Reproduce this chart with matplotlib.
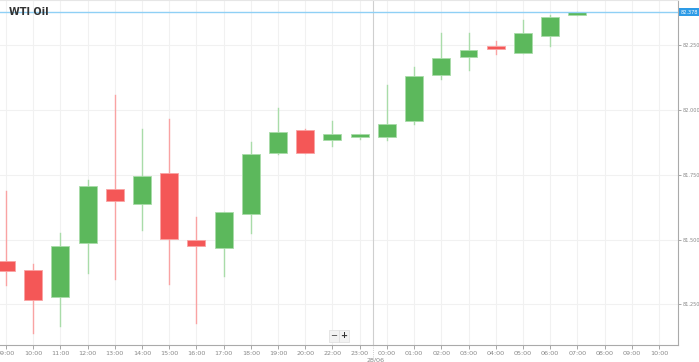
import matplotlib.pyplot as plt
from matplotlib.patches import Rectangle
import matplotlib.transforms as mtransforms

# hourly candles (21:00 is the daily break, no candle)
hours = ["09:00", "10:00", "11:00", "12:00", "13:00", "14:00", "15:00", "16:00",
         "17:00", "18:00", "19:00", "20:00", "22:00", "23:00", "00:00", "01:00",
         "02:00", "03:00", "04:00", "05:00", "06:00", "07:00"]
opens = [81.417, 81.382, 81.278, 81.486, 81.695, 81.637, 81.757, 81.498,
         81.467, 81.598, 81.834, 81.923, 81.884, 81.896, 81.896, 81.958,
         82.135, 82.205, 82.247, 82.220, 82.286, 82.367]
highs = [81.687, 81.405, 81.525, 81.730, 82.058, 81.927, 81.965, 81.587,
         81.606, 81.876, 82.008, 81.927, 81.958, 81.907, 82.097, 82.166,
         82.297, 82.297, 82.266, 82.347, 82.367, 82.378]
lows = [81.324, 81.139, 81.166, 81.371, 81.347, 81.537, 81.328, 81.178,
        81.359, 81.525, 81.830, 81.834, 81.861, 81.888, 81.884, 81.946,
        82.120, 82.154, 82.216, 82.220, 82.247, 82.367]
closes = [81.378, 81.266, 81.475, 81.707, 81.649, 81.745, 81.502, 81.475,
          81.606, 81.830, 81.915, 81.834, 81.907, 81.907, 81.946, 82.131,
          82.201, 82.232, 82.236, 82.297, 82.359, 82.378]
last_price = 82.378

tick_labels = hours + ["08:00", "09:00", "10:00"]
y_ticks = [81.25, 81.5, 81.75, 82.0, 82.25]

green = "#5cb85c"
red = "#f45757"
green_wick = "#a9dca9"
red_wick = "#f9a3a3"

fig = plt.figure(figsize=(6.99, 3.62), dpi=100)
ax = fig.add_axes([0, 17 / 362, 678 / 699, 345 / 362])

body_w = 0.66
for i in range(len(hours)):
    up = closes[i] >= opens[i]
    c = green if up else red
    wc = green_wick if up else red_wick
    ax.plot([i, i], [lows[i], highs[i]], color=wc, lw=1, zorder=2)
    bottom = min(opens[i], closes[i])
    h = max(abs(closes[i] - opens[i]), 0.006)
    ax.add_patch(Rectangle((i - body_w / 2, bottom), body_w, h, facecolor=c,
                           edgecolor=wc, lw=0.6, zorder=3))

ax.set_xlim(-0.22, 24.7)
ax.set_ylim(81.093, 82.425)

ax.set_xticks(range(len(tick_labels)))
ax.set_xticklabels(tick_labels)
ax.set_yticks(y_ticks)
ax.set_yticklabels(["%.3f" % v for v in y_ticks])
ax.yaxis.tick_right()
ax.tick_params(axis="x", labelsize=4.6, colors="#999999", labelcolor="#888888",
               length=3, width=0.6, pad=1.5)
ax.tick_params(axis="y", labelsize=3.6, colors="#999999", labelcolor="#888888",
               length=2, width=0.6, pad=1)

ax.grid(True, color="#f1f1f1", lw=0.8)
ax.set_axisbelow(True)
ax.spines["left"].set_visible(False)
ax.spines["top"].set_color("#e6e6e6")
ax.spines["right"].set_color("#aaaaaa")
ax.spines["bottom"].set_color("#aaaaaa")

# day separator
ax.axvline(13.5, color="#cfcfcf", lw=0.8, zorder=1)
trans = mtransforms.blended_transform_factory(ax.transData, ax.transAxes)
ax.plot([13.5, 13.5], [0, -0.04], color="#bbbbbb", lw=0.6, ls=":",
        transform=trans, clip_on=False)
ax.text(13.6, -0.036, "28/06", transform=trans, fontsize=4.6, color="#888888",
        ha="center", va="top")

# last price line and label
ax.axhline(last_price, color="#8fd0f5", lw=1, zorder=4)
ax.text(1.004, last_price, "%.3f" % last_price, transform=ax.get_yaxis_transform(),
        fontsize=3.6, color="white", va="center", ha="left", clip_on=False,
        bbox=dict(boxstyle="square,pad=0.25", facecolor="#2e9be6", edgecolor="none"))

fig.text(9 / 699, 1 - 12 / 362, "WTI Oil", fontsize=7, fontweight="bold",
         color="#333333", va="center", ha="left")

# zoom buttons
fig.text(334 / 699, 1 - 336 / 362, "\u2212", fontsize=6, color="#333333",
         ha="center", va="center",
         bbox=dict(boxstyle="square,pad=0.2", facecolor="#f2f2f2", edgecolor="#dddddd", lw=0.5))
fig.text(344 / 699, 1 - 336 / 362, "+", fontsize=6, color="#333333",
         ha="center", va="center", fontweight="bold",
         bbox=dict(boxstyle="square,pad=0.2", facecolor="#f2f2f2", edgecolor="#dddddd", lw=0.5))

fig.savefig("out.png", dpi=100)
